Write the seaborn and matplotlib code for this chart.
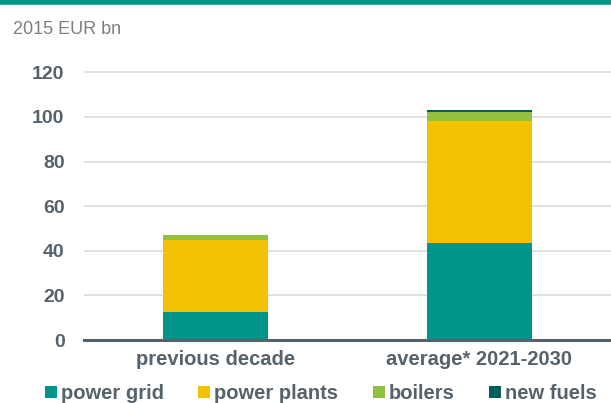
import numpy as np
import pandas as pd
import matplotlib
matplotlib.use("Agg")
import matplotlib.pyplot as plt
from matplotlib.patches import Patch
import seaborn as sns

# data (2015 EUR bn)
categories = ["previous decade", "average* 2021-2030"]
power_grid = [12.7, 43.4]
power_plants = [32.1, 54.8]
boilers = [2.2, 3.9]
new_fuels = [0.0, 0.9]

series_names = ["power grid", "power plants", "boilers", "new fuels"]
colors = ["#00958a", "#f2c100", "#92c13e", "#005f59"]
text_col = "#56626b"

sns.set_style("white")
plt.rcParams["font.family"] = ["Liberation Sans", "DejaVu Sans"]

df = pd.DataFrame({"category": categories, "power grid": power_grid,
                   "power plants": power_plants, "boilers": boilers,
                   "new fuels": new_fuels})
# cumulative stacks, drawn from the top layer down so lower layers cover
cum = df[series_names].cumsum(axis=1)

fig = plt.figure(figsize=(6.11, 4.03), dpi=100)
ax = fig.add_axes([0.1375, 0.156, 0.8625, 0.72])

for name, col in reversed(list(zip(series_names, colors))):
    sns.barplot(x=df["category"], y=cum[name], color=col, width=0.4,
                saturation=1, linewidth=0, ax=ax)

ax.set_ylim(0, 130)
ax.set_xlim(-0.5, 1.5)
ax.set_yticks(range(0, 121, 20))
ax.yaxis.grid(True, color="#dcdcdc", linewidth=1.2)
ax.set_axisbelow(True)
ax.set_xlabel("")
ax.set_ylabel("")
for s in ["top", "right", "left"]:
    ax.spines[s].set_visible(False)
ax.spines["bottom"].set_color(text_col)
ax.spines["bottom"].set_linewidth(2.2)
ax.set_xticks([-0.5, 0.5, 1.5], minor=False)
ax.set_xticks([0, 1], minor=True)
ax.set_xticklabels([], minor=False)
ax.set_xticklabels(categories, minor=True)
ax.tick_params(axis="x", which="major", length=5, width=2.2, color=text_col, direction="out")
ax.tick_params(axis="x", which="minor", length=0, pad=7, labelsize=14.5, labelcolor=text_col)
ax.tick_params(axis="y", length=0, pad=14, labelsize=14, labelcolor=text_col)
for lab in ax.get_xticklabels(minor=True) + ax.get_yticklabels():
    lab.set_fontweight("bold")

fig.add_artist(plt.Line2D([0, 1], [0.996, 0.996], color="#00958a", linewidth=4,
                          transform=fig.transFigure))
fig.text(0.021, 0.915, "2015 EUR bn", fontsize=13, color="#7f7f7f")

handles = [Patch(facecolor=c, edgecolor="none") for c in colors]
leg = fig.legend(handles, series_names, loc="lower center", ncol=4,
                 bbox_to_anchor=(0.525, -0.045), frameon=False,
                 handlelength=0.6, handleheight=0.6, handletextpad=0.2,
                 columnspacing=1.7, prop={"weight": "bold", "size": 14.5})
for t in leg.get_texts():
    t.set_color(text_col)

fig.savefig("out.png", dpi=100)
